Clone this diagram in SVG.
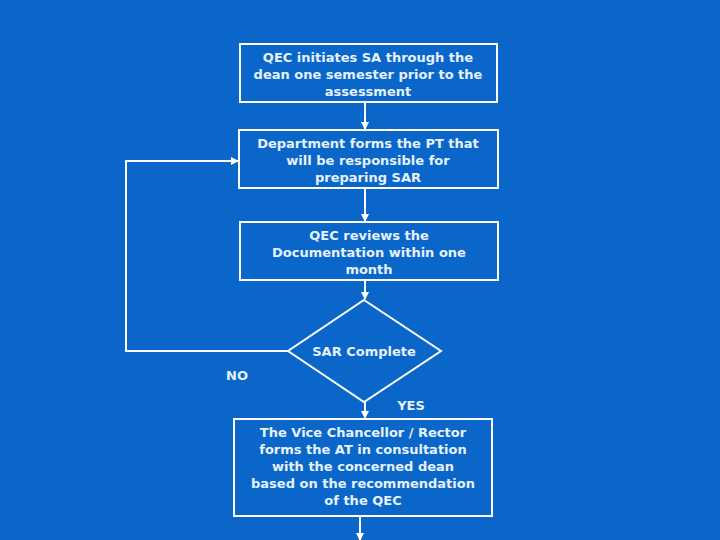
<svg xmlns="http://www.w3.org/2000/svg" width="720" height="540" viewBox="0 0 720 540">
<defs>
<marker id="ah" markerWidth="8" markerHeight="8" refX="7" refY="4" orient="auto" markerUnits="userSpaceOnUse"><path d="M0,0 L8,4 L0,8 z" fill="#fff"/></marker>
<style>
.b{fill:none;stroke:#fff;stroke-width:2}
.c{fill:none;stroke:#fff;stroke-width:2}
text{font-family:"DejaVu Sans",Verdana,sans-serif;font-weight:bold;font-size:13px;fill:#e6f2ff;text-anchor:middle}
</style>
</defs>
<rect width="720" height="540" fill="#0a66c8"/>
<g id="connectors">
<line class="c" x1="365" y1="102" x2="365" y2="129" marker-end="url(#ah)"/>
<line class="c" x1="365" y1="188" x2="365" y2="221" marker-end="url(#ah)"/>
<line class="c" x1="365" y1="280" x2="365" y2="299" marker-end="url(#ah)"/>
<line class="c" x1="365" y1="402" x2="365" y2="418" marker-end="url(#ah)"/>
<polyline class="c" points="288,351 126,351 126,161 238,161" marker-end="url(#ah)"/>
<line class="c" x1="360" y1="516" x2="360" y2="540" marker-end="url(#ah)"/>
</g>
<g id="n1"><rect class="b" x="240" y="44" width="257" height="58"/>
<text x="368" y="62">QEC initiates SA through the</text><text x="368" y="79">dean one semester prior to the</text><text x="368" y="96">assessment</text></g>
<g id="n2"><rect class="b" x="239" y="130" width="259" height="58"/>
<text x="368" y="148">Department forms the PT that</text><text x="368" y="165">will be responsible for</text><text x="368" y="182">preparing SAR</text></g>
<g id="n3"><rect class="b" x="240" y="222" width="258" height="58"/>
<text x="369" y="240">QEC reviews the</text><text x="369" y="257">Documentation within one</text><text x="369" y="274">month</text></g>
<g id="n4"><polygon class="b" points="364,300 441,351 364,402 288,351"/>
<text x="364" y="356">SAR Complete</text></g>
<text x="237" y="380">NO</text>
<text x="411" y="410">YES</text>
<g id="n5"><rect class="b" x="234" y="419" width="258" height="97"/>
<text x="363" y="437">The Vice Chancellor / Rector</text><text x="363" y="454">forms the AT in consultation</text><text x="363" y="471">with the concerned dean</text><text x="363" y="488">based on the recommendation</text><text x="363" y="505">of the QEC</text></g>
</svg>
